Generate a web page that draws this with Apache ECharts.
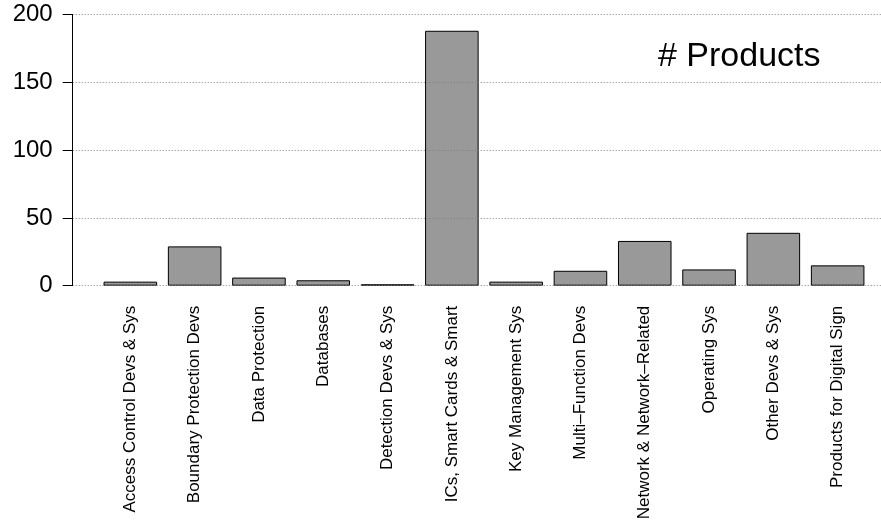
<!DOCTYPE html>
<html>
<head>
<meta charset="utf-8">
<script src="https://cdn.jsdelivr.net/npm/echarts@6/dist/echarts.min.js"></script>
<style>
  html, body { margin: 0; padding: 0; background: #ffffff; }
  #chart { width: 881px; height: 524px; }
</style>
</head>
<body>
<div id="chart"></div>
<script>
// Product categories and the number of products in each
const categories = [
  'Access Control Devs & Sys',
  'Boundary Protection Devs',
  'Data Protection',
  'Databases',
  'Detection Devs & Sys',
  'ICs, Smart Cards & Smart',
  'Key Management Sys',
  'Multi\u2013Function Devs',
  'Network & Network\u2013Related',
  'Operating Sys',
  'Other Devs & Sys',
  'Products for Digital Sign'
];
const productCounts = [3, 29, 6, 4, 1, 188, 3, 11, 33, 12, 39, 15];

// Value axis range and tick step
const yMin = 0;
const yMax = 200;
const yStep = 50;

const legendText = '# Products';

const fontFamily = '"Liberation Sans", Arial, Helvetica, sans-serif';

const chart = echarts.init(document.getElementById('chart'), null, { renderer: 'canvas' });

const gridTop = 14.5;
const gridBottom = 238.3;

chart.setOption({
  animation: false,
  backgroundColor: '#ffffff',
  textStyle: { fontFamily: fontFamily },
  grid: [
    // bars
    { left: 98.2, right: 11.2, top: gridTop, bottom: gridBottom, containLabel: false },
    // frame for the value axis and its dotted reference lines
    { left: 72.7, right: -30, top: gridTop, bottom: gridBottom, containLabel: false }
  ],
  xAxis: [
    {
      type: 'category',
      gridIndex: 0,
      data: categories,
      boundaryGap: true,
      axisLine: { show: false },
      axisTick: { show: false },
      splitLine: { show: false },
      axisLabel: {
        interval: 0,
        rotate: 90,
        margin: 20,
        fontSize: 17,
        color: '#000000',
        fontFamily: fontFamily
      }
    },
    {
      type: 'value',
      gridIndex: 1,
      min: 0,
      max: 1,
      show: false
    }
  ],
  yAxis: [
    {
      type: 'value',
      gridIndex: 0,
      min: yMin,
      max: yMax,
      interval: yStep,
      show: false,
      splitLine: { show: false }
    },
    {
      type: 'value',
      gridIndex: 1,
      min: yMin,
      max: yMax,
      interval: yStep,
      z: 5,
      axisLine: { show: true, lineStyle: { color: '#000000', width: 1 } },
      axisTick: { show: true, length: 10, lineStyle: { color: '#000000', width: 1 } },
      axisLabel: {
        margin: 20,
        fontSize: 24,
        color: '#000000',
        fontFamily: fontFamily
      },
      splitLine: {
        show: true,
        lineStyle: { color: '#7f7f7f', width: 1, type: [1, 2] }
      }
    }
  ],
  graphic: [
    {
      type: 'text',
      left: 658,
      top: 40,
      z: 10,
      style: {
        text: legendText,
        fontSize: 34,
        fontFamily: fontFamily,
        fill: '#000000'
      }
    }
  ],
  series: [
    {
      type: 'bar',
      xAxisIndex: 0,
      yAxisIndex: 0,
      data: productCounts,
      barCategoryGap: '16.7%',
      z: 2,
      itemStyle: {
        color: '#999999',
        borderColor: '#000000',
        borderWidth: 1
      }
    }
  ]
});
</script>
</body>
</html>
